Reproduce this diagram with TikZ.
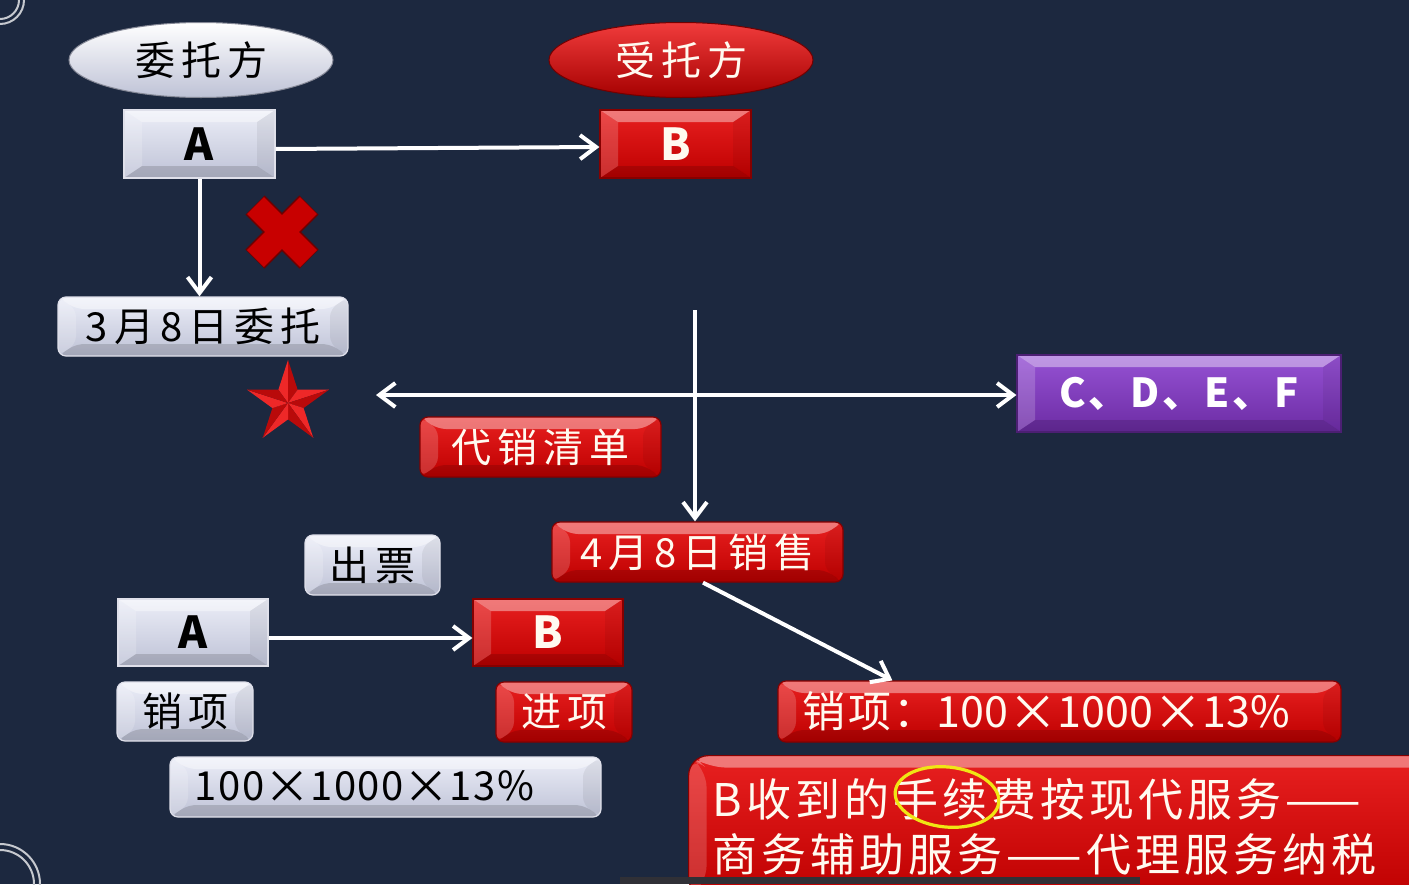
\documentclass[tikz,border=0pt]{standalone}
\usepackage{fontspec}
\setmainfont{Noto Sans CJK SC}
\newfontfamily\zh[LetterSpace=15]{Noto Sans CJK SC}
\newfontfamily\zhw[LetterSpace=4]{Noto Sans CJK SC}
\newfontfamily\zhn[LetterSpace=6]{Noto Sans CJK SC}
\newfontfamily\zhm[LetterSpace=9]{Noto Sans CJK SC}
\usetikzlibrary{arrows.meta,shapes.geometric}
\newcommand\setfs[1]{\fontsize{#1}{#1}\selectfont}
\newcommand\bigx{\raisebox{-0.07em}{\scalebox{1.15}{×}}}
\definecolor{bg}{RGB}{28,40,63}
\definecolor{silverT}{RGB}{236,238,248}
\definecolor{silverB}{RGB}{190,194,214}
\definecolor{redT}{RGB}{232,32,32}
\definecolor{redB}{RGB}{190,0,0}
\definecolor{rellT}{RGB}{240,60,60}
\definecolor{rellM}{RGB}{215,8,8}
\definecolor{rellB}{RGB}{165,0,0}
\definecolor{purT}{RGB}{150,82,212}
\definecolor{purB}{RGB}{108,44,164}
\definecolor{txtw}{RGB}{255,250,240}
\definecolor{xred}{RGB}{200,0,0}
\definecolor{xdark}{RGB}{110,0,0}
\definecolor{starL}{RGB}{238,40,40}
\definecolor{starD}{RGB}{185,10,10}
\definecolor{marker}{RGB}{240,230,20}
\definecolor{barc}{RGB}{48,48,54}
\tikzset{
  bevel/.style={path picture={
    \coordinate (bvnw) at (path picture bounding box.north west);
    \coordinate (bvne) at (path picture bounding box.north east);
    \coordinate (bvsw) at (path picture bounding box.south west);
    \coordinate (bvse) at (path picture bounding box.south east);
    \fill[white,opacity=.4] (bvnw) -- (bvne) -- ([xshift=-9pt,yshift=-6pt]bvne) -- ([xshift=9pt,yshift=-6pt]bvnw) -- cycle;
    \fill[white,opacity=.18] (bvnw) -- ([xshift=9pt,yshift=-6pt]bvnw) -- ([xshift=9pt,yshift=6pt]bvsw) -- (bvsw) -- cycle;
    \fill[black,opacity=.06] (bvne) -- ([xshift=-9pt,yshift=-6pt]bvne) -- ([xshift=-9pt,yshift=6pt]bvse) -- (bvse) -- cycle;
    \fill[black,opacity=.14] (bvsw) -- ([xshift=9pt,yshift=6pt]bvsw) -- ([xshift=-9pt,yshift=6pt]bvse) -- (bvse) -- cycle;
  }},
  boxbase/.style={rectangle, inner sep=0pt, bevel, line width=0.6pt},
  sbox/.style={boxbase, top color=silverT, bottom color=silverB, draw=silverB!50!white, text=black},
  rbox/.style={boxbase, top color=redT, bottom color=redB, draw=redB!70!black, text=txtw},
  pbox/.style={boxbase, top color=purT, bottom color=purB, draw=purB!70!black, text=white},
  rc/.style={rounded corners=4pt},
  sell/.style={ellipse, inner sep=0pt, minimum width=132pt, minimum height=37.5pt,
    top color=white, middle color=silverT, bottom color=silverB, draw=silverB!70!black, line width=.5pt, text=black},
  rell/.style={ellipse, inner sep=0pt, minimum width=132pt, minimum height=37.5pt,
    top color=rellT, middle color=rellM, bottom color=rellB, draw=redB!60!black, line width=.5pt, text=txtw},
  conn/.style={white, line width=2pt, -{Straight Barb[length=8pt,width=12pt,line width=2pt]}},
  conn2/.style={white, line width=2pt, {Straight Barb[length=8pt,width=12pt,line width=2pt]}-{Straight Barb[length=8pt,width=12pt,line width=2pt]}},
  lt/.style={font=\zh\setfs{20pt}},
  lett/.style={font=\bfseries\setfs{22pt}},
}
\begin{document}
\begin{tikzpicture}[x=0.5pt,y=-0.5pt]
\useasboundingbox (0,0) rectangle (1409,884);
\fill[bg] (0,0) rectangle (1409,884);
\clip (0,0) rectangle (1409,884);
% ornaments
\draw[white!75!bg, line width=1pt] (0,0) circle[radius=12pt] (0,0) circle[radius=9.5pt];
\draw[white!75!bg, line width=1pt] (0,884) circle[radius=20pt] (0,884) circle[radius=17pt];

% top parties
\node[sell, font=\zh\setfs{20pt}] (wtf) at (201,60) {委托方};
\node[rell, font=\zh\setfs{20pt}] (stf) at (681,60) {受托方};

\node[sbox, lett, minimum width=75.5pt, minimum height=34pt] (A1) at (199.5,144) {A};
\node[rbox, lett, minimum width=75.5pt, minimum height=34pt] (B1) at (675.5,144) {B};

% red X
\coordinate (xm) at (282,232);
\draw[xdark, line width=13.5pt] ([shift={(-27,-27)}]xm) -- ([shift={(27,27)}]xm)
     ([shift={(27,-27)}]xm) -- ([shift={(-27,27)}]xm);
\draw[xred, line width=12pt] ([shift={(-26.5,-26.5)}]xm) -- ([shift={(26.5,26.5)}]xm)
     ([shift={(26.5,-26.5)}]xm) -- ([shift={(-26.5,26.5)}]xm);

\node[sbox, rc, lt, minimum width=145pt, minimum height=29.5pt] (d38) at (203,326.5) {3月8日\hspace{3pt}委托};

% star
\coordinate (st) at (288,403);
\foreach \k in {0,...,4} {
  \pgfmathsetmacro\ao{-90+72*\k}
  \pgfmathsetmacro\ap{\ao+36}
  \pgfmathsetmacro\am{\ao-36}
  \fill[starL] (st) -- ([shift={(\ao:43)}]st) -- ([shift={(\am:16.4)}]st) -- cycle;
  \fill[starD] (st) -- ([shift={(\ao:43)}]st) -- ([shift={(\ap:16.4)}]st) -- cycle;
}

\node[pbox, font=\zhn\bfseries\setfs{20pt}, minimum width=162pt, minimum height=38.5pt] (cdef) at (1179,393.5) {C、D、E、F};
\node[rbox, rc, lt, minimum width=120.5pt, minimum height=30pt] (dxqd) at (540.5,447) {代销清单};
\node[rbox, rc, lt, minimum width=145.5pt, minimum height=30pt] (d48) at (697.5,552) {4月8日\hspace{3pt}销售};

\node[sbox, rc, lt, minimum width=67.5pt, minimum height=30pt] (cp) at (372.5,565) {出票};
\node[sbox, lett, minimum width=75pt, minimum height=33.5pt] (A2) at (193,632.5) {A};
\node[rbox, lett, minimum width=75pt, minimum height=33.5pt] (B2) at (548,632.5) {B};
\node[sbox, rc, lt, minimum width=68pt, minimum height=29.5pt] (xx) at (185,711.5) {销项};
\node[rbox, rc, lt, minimum width=68pt, minimum height=30pt] (jx) at (564,712) {进项};
\node[sbox, rc, font=\zhw\setfs{20pt}, minimum width=215.5pt, minimum height=30pt] (calc1) at (385.5,787) {100\bigx1000\bigx13\%\kern21pt};
\node[rbox, rc, font=\setfs{21.5pt}, minimum width=281.5pt, minimum height=30.5pt] (calc2) at (1059.5,711.5) {{\zhn 销项：}100\bigx1000\bigx13\%\kern13pt};

% note box
\node[rbox, rounded corners=10pt, anchor=north west, minimum width=380pt, minimum height=71pt,
      text width=356pt, align=left, inner xsep=12pt, inner ysep=4pt,
      font=\zhm\fontsize{22.5pt}{27.5pt}\selectfont] (note) at (688,755)
      {B收到的手续费按现代服务——\\商务辅助服务——代理服务纳税};
\draw[marker, line width=1.6pt, rotate around={-6:(947,797)}] (947,797) ellipse [x radius=26pt, y radius=15pt];
\fill[barc] (620,877) rectangle (1140,884);

% connectors
\draw[conn] ([yshift=-2.5pt]A1.east) -- ([yshift=-1.5pt]B1.west);
\draw[conn] (A1.south) -- (A1.south |- d38.north);
\coordinate (hl) at (376,395);
\draw[conn2] (hl) -- (hl -| cdef.west);
\coordinate (vt) at (695,310);
\draw[conn] (vt) -- (vt |- d48.north);
\draw[conn] ([xshift=2.75pt]d48.south) -- ([xshift=57.5pt]calc2.north west);
\draw[conn] ([yshift=-2.75pt]A2.east) -- ([yshift=-2.75pt]B2.west);
\end{tikzpicture}
\end{document}
